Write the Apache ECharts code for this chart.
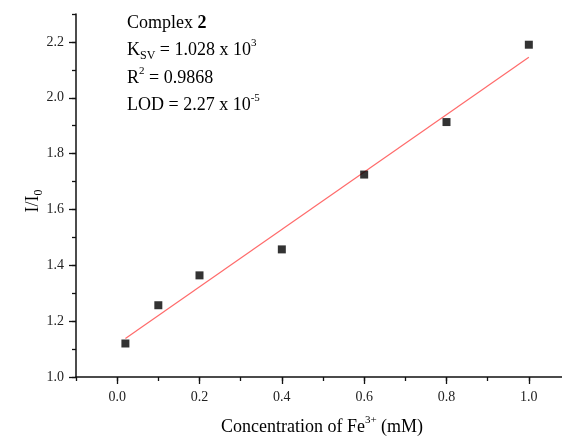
<!DOCTYPE html>
<html>
<head>
<meta charset="utf-8">
<script src="https://cdn.jsdelivr.net/npm/echarts@6/dist/echarts.min.js"></script>
<style>html,body{margin:0;padding:0;background:#fff;overflow:hidden}#c{width:570px;height:439px}</style>
</head>
<body>
<div id="c"></div>
<script>
const concentration = [0.02, 0.1, 0.2, 0.4, 0.6, 0.8, 1.0];
const intensityRatio = [1.120, 1.257, 1.364, 1.457, 1.725, 1.913, 2.190];
const fitX = [0.02, 1.0];
const fitY = [1.138, 2.145];
const xTickLabels = [0.0, 0.2, 0.4, 0.6, 0.8, 1.0];
const yTickLabels = [1.0, 1.2, 1.4, 1.6, 1.8, 2.0, 2.2];

const FONT = '"Liberation Serif", "Times New Roman", serif';
const axisColor = '#111';

function axisPair(dim, min, max, majors, minorLen, majorLen, margin) {
  const base = {
    type: 'value', min: min, max: max, interval: 0.1,
    splitLine: { show: false }
  };
  const a = Object.assign({}, base, {
    position: dim === 'x' ? 'bottom' : 'left',
    axisLine: { show: true, onZero: false, lineStyle: { color: axisColor, width: 1.5 } },
    axisTick: { show: true, length: minorLen, lineStyle: { color: axisColor, width: 1.3 } },
    axisLabel: {
      customValues: majors, margin: margin,
      formatter: v => Number(v).toFixed(1),
      fontFamily: FONT, fontSize: 14, color: '#222'
    }
  });
  const b = Object.assign({}, base, {
    position: dim === 'x' ? 'bottom' : 'left',
    axisLine: { show: false, onZero: false },
    axisTick: { show: true, customValues: majors, length: majorLen, lineStyle: { color: axisColor, width: 1.3 } },
    axisLabel: { show: false }
  });
  return [a, b];
}

const chart = echarts.init(document.getElementById('c'), null, { renderer: 'canvas' });

const rich = {
  n: { fontFamily: FONT, fontSize: 18, color: '#111', lineHeight: 24 },
  b: { fontFamily: FONT, fontSize: 18, color: '#111', fontWeight: 'bold', lineHeight: 24 },
  sup: { fontFamily: FONT, fontSize: 11, color: '#111', verticalAlign: 'top', lineHeight: 24, padding: [0, 0, 12, 0] },
  sub: { fontFamily: FONT, fontSize: 12, color: '#111', verticalAlign: 'bottom', lineHeight: 24, padding: [8, 0, 0, 0] }
};

function txt(x, y, text, align) {
  return {
    type: 'text', x: x, y: y,
    style: { text: text, rich: rich, align: align || 'left', verticalAlign: 'middle' }
  };
}

chart.setOption({
  animation: false,
  backgroundColor: '#fff',
  grid: { left: 76, right: 0, top: 14, bottom: 62, containLabel: false },
  xAxis: axisPair('x', -0.1, 1.1, xTickLabels, 4, 7, 13),
  yAxis: axisPair('y', 1.0, 2.3, yTickLabels, 4, 7, 12),
  series: [
    {
      type: 'line', xAxisIndex: 0, yAxisIndex: 0,
      data: fitX.map((x, i) => [x, fitY[i]]),
      symbol: 'none', lineStyle: { color: '#ff6b6b', width: 1.2 }, z: 2
    },
    {
      type: 'scatter', xAxisIndex: 0, yAxisIndex: 0,
      data: concentration.map((x, i) => [x, intensityRatio[i]]),
      symbol: 'rect', symbolSize: 8, itemStyle: { color: '#000' }, z: 3
    }
  ],
  graphic: [
    txt(127, 23, '{n|Complex }{b|2}'),
    txt(127, 50, '{n|K}{sub|SV}{n| = 1.028 x 10}{sup|3}'),
    txt(127, 78, '{n|R}{sup|2}{n| = 0.9868}'),
    txt(127, 105, '{n|LOD = 2.27 x 10}{sup|-5}'),
    txt(322, 427, '{n|Concentration of Fe}{sup|3+}{n| (mM)}', 'center'),
    {
      type: 'text', x: 33, y: 201, rotation: Math.PI / 2,
      style: { text: '{n|I/I}{sub|0}', rich: rich, align: 'center', verticalAlign: 'middle' }
    }
  ]
});
</script>
</body>
</html>
